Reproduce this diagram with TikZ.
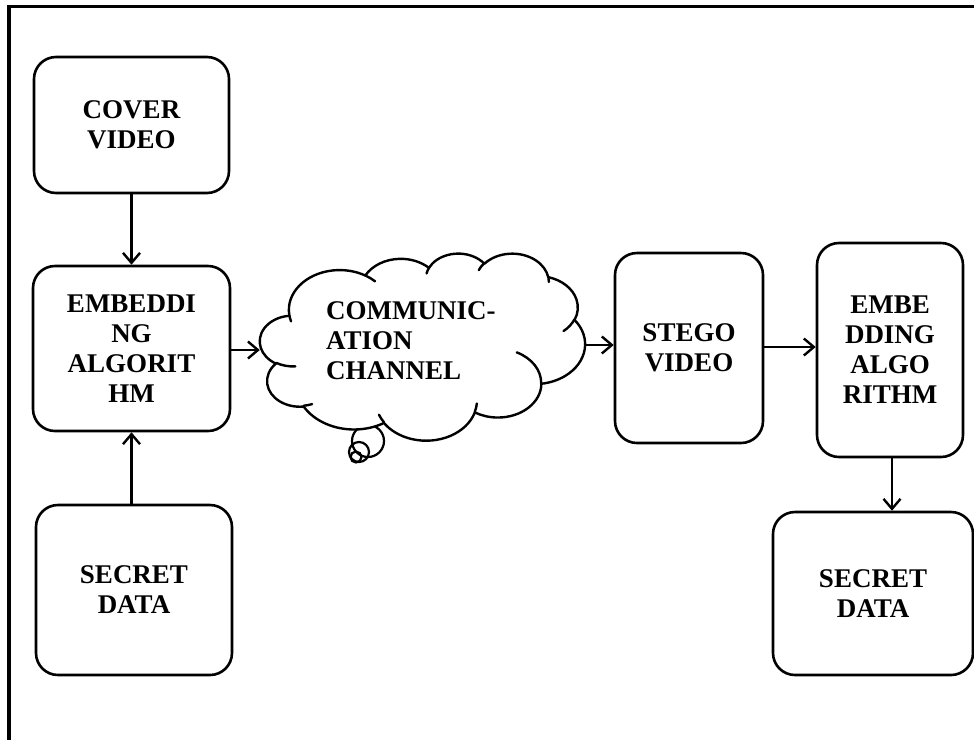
\documentclass[tikz,border=0pt]{standalone}
\usepackage{fontspec}
\setmainfont{Liberation Serif}
\usetikzlibrary{arrows.meta}

% Elliptic arc helper: radii wR, hR, start angle and sweep given as
% visual angles; stores the parametric start and sweep for arc[...].
\newcommand\cldset[5]{%
  \pgfmathsetmacro\cldtmpA{atan2(#2*sin(#4), #3*cos(#4))}%
  \pgfmathsetmacro\cldtmpB{atan2(#2*sin(#4+#5), #3*cos(#4+#5))}%
  \pgfmathsetmacro\cldtmpD{\cldtmpB-\cldtmpA+360*(\cldtmpB<\cldtmpA)}%
  \expandafter\xdef\csname cldS#1\endcsname{\cldtmpA}%
  \expandafter\xdef\csname cldD#1\endcsname{\cldtmpD}%
}
% outline puffs
\cldset{a}{675.3}{919.0}{-190.48748}{123.78053}
\cldset{b}{533.3}{726.7}{-144.10238}{89.94523}
\cldset{c}{436.5}{594.5}{-145.80792}{99.72302}
\cldset{d}{485.7}{659.5}{-130.98607}{117.24173}
\cldset{e}{533.3}{727.3}{-78.70888}{109.02692}
\cldset{f}{677.5}{922.0}{-46.26725}{130.269}
\cldset{g}{578.5}{786.7}{0.62502}{114.03333}
\cldset{h}{675.2}{921.5}{22.4516}{115.17255}
\cldset{i}{772.0}{1054.3}{66.24263}{75.71102}
\cldset{j}{436.0}{591.8}{-274.94208}{146.73557}
\cldset{k}{434.5}{594.5}{-246.8285}{152.51885}
% inner fold lines
\cldset{ia}{434.5}{594.5}{86.742}{26.4295}
\cldset{ib}{436.0}{591.8}{73.61047}{11.44747}
\cldset{ic}{675.2}{921.5}{137.62415}{14.0811}
\cldset{id}{675.2}{921.5}{6.45327}{15.99835}
\cldset{ie}{578.5}{786.7}{-70.29235}{70.91737}
\cldset{if}{533.3}{727.3}{30.31803}{27.7515}
\cldset{ig}{485.7}{659.5}{-13.74433}{14.8589}
\cldset{ih}{485.7}{659.5}{-149.18145}{18.19537}
\cldset{ii}{436.5}{594.5}{-163.49427}{17.68635}
\cldset{ij}{675.3}{919.0}{-66.70695}{12.31935}
\cldset{ik}{675.3}{919.0}{157.65435}{11.85817}

\begin{document}
\begin{tikzpicture}[x=1pt,y=-1pt,
  box/.style={draw, line width=2.6pt, rounded corners=22pt, inner sep=0pt,
    align=center, font=\bfseries\fontsize{27}{30}\selectfont},
  arr/.style={line width=2.4pt, -{Straight Barb[length=10pt,width=17pt]}},
  bubble/.style={circle, draw, line width=2.2pt, inner sep=0pt},
  cloudline/.style={line width=2.4pt, line join=round, line cap=round},
  lbl/.style={font=\bfseries\fontsize{27}{30}\selectfont, inner sep=0pt}]
\useasboundingbox (0,0) rectangle (974,740);
\fill[white] (0,0) rectangle (974,740);

% outer frame (left and top edges)
\draw[line width=3.4pt] (9,740) -- (9,6.5) -- (974,6.5);

% sender side
\node[box, minimum width=195pt, minimum height=136pt] (cover) at (131.5,125) {COVER\\VIDEO};
\node[box, minimum width=197pt, minimum height=165pt] (emb) at (131.5,348.5) {EMBEDDI\\NG\\ALGORIT\\HM};
\node[box, minimum width=196pt, minimum height=170pt] (secret) at (134,590) {SECRET\\DATA};

% thought bubbles under the channel cloud
\node[bubble, minimum size=32pt] (b1) at (368,441) {};
\node[bubble, minimum size=20pt] (b2) at (359,452) {};
\node[bubble, minimum size=11pt] (b3) at (356,457) {};

% channel cloud: frame node plus the drawn outline
\node[minimum width=325pt, minimum height=187pt, inner sep=0pt] (chan) at (422.5,346.5) {};
\begin{scope}[shift={(260,253)}, x=0.075231pt, y=-0.043287pt]
  \draw[cloudline, fill=white] (390,1437)
    arc[start angle=\cldSa, delta angle=\cldDa, x radius=675.3, y radius=919.0]
    arc[start angle=\cldSb, delta angle=\cldDb, x radius=533.3, y radius=726.7]
    arc[start angle=\cldSc, delta angle=\cldDc, x radius=436.5, y radius=594.5]
    arc[start angle=\cldSd, delta angle=\cldDd, x radius=485.7, y radius=659.5]
    arc[start angle=\cldSe, delta angle=\cldDe, x radius=533.3, y radius=727.3]
    arc[start angle=\cldSf, delta angle=\cldDf, x radius=677.5, y radius=922.0]
    arc[start angle=\cldSg, delta angle=\cldDg, x radius=578.5, y radius=786.7]
    arc[start angle=\cldSh, delta angle=\cldDh, x radius=675.2, y radius=921.5]
    arc[start angle=\cldSi, delta angle=\cldDi, x radius=772.0, y radius=1054.3]
    arc[start angle=\cldSj, delta angle=\cldDj, x radius=436.0, y radius=591.8]
    arc[start angle=\cldSk, delta angle=\cldDk, x radius=434.5, y radius=594.5]
    -- cycle;
  \draw[cloudline]
    (469.3,2617.7) arc[start angle=\cldSia, delta angle=\cldDia, x radius=434.5, y radius=594.5]
    (692.8,3489.9) arc[start angle=\cldSib, delta angle=\cldDib, x radius=436.0, y radius=591.8]
    (1647.8,3909.0) arc[start angle=\cldSic, delta angle=\cldDic, x radius=675.2, y radius=921.5]
    (2882.7,3475.1) arc[start angle=\cldSid, delta angle=\cldDid, x radius=675.2, y radius=921.5]
    (3412.9,2295.4) arc[start angle=\cldSie, delta angle=\cldDie, x radius=578.5, y radius=786.7]
    (4179.8,1535.4) arc[start angle=\cldSif, delta angle=\cldDif, x radius=533.3, y radius=727.3]
    (3832.4,542.6) arc[start angle=\cldSig, delta angle=\cldDig, x radius=485.7, y radius=659.5]
    (2907.8,395.2) arc[start angle=\cldSih, delta angle=\cldDih, x radius=485.7, y radius=659.5]
    (2214.1,472.0) arc[start angle=\cldSii, delta angle=\cldDii, x radius=436.5, y radius=594.5]
    (1400.0,519.2) arc[start angle=\cldSij, delta angle=\cldDij, x radius=675.3, y radius=919.0]
    (412.7,1578.9) arc[start angle=\cldSik, delta angle=\cldDik, x radius=675.3, y radius=919.0];
\end{scope}
\node[lbl, align=left, anchor=west] (chantext) at (326,341) {COMMUNIC-\\ATION\\CHANNEL};

% receiver side
\node[box, minimum width=148pt, minimum height=190pt] (stego) at (689,348) {STEGO\\VIDEO};
\node[box, minimum width=146pt, minimum height=214pt] (ext) at (890,350) {EMBE\\DDING\\ALGO\\RITHM};
\node[box, minimum width=200pt, minimum height=163pt] (out) at (873,593.5) {SECRET\\DATA};

% connectors
\draw[arr] (cover.south) -- (emb.north);
\draw[arr] (secret.north -| emb.south) -- (emb.south);
\draw[arr] (emb.east |- 0,350) -- (chan.west |- 0,350);
\draw[arr] (chan.east |- 0,345) -- (stego.west |- 0,345);
\draw[arr] (stego.east |- 0,347) -- (ext.west |- 0,347);
\draw[arr] (ext.south -| 892,0) -- (out.north -| 892,0);
\end{tikzpicture}
\end{document}
